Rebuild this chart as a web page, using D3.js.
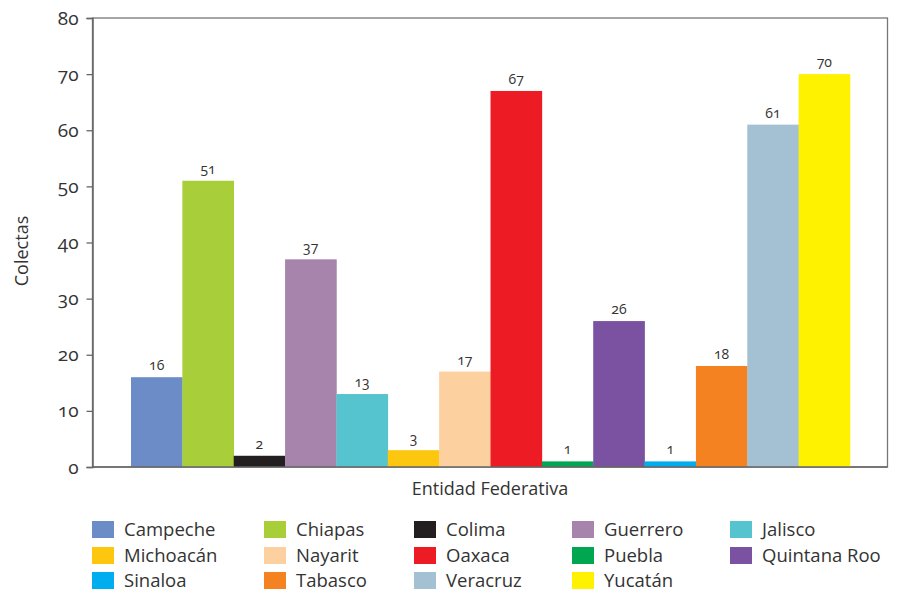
<!DOCTYPE html>
<html><head><meta charset="utf-8">
<script src="https://cdn.jsdelivr.net/npm/d3@7"></script>
<style>
body{margin:0;background:#fff;}
text{font-family:"Open Sans",sans-serif;font-weight:400;font-variant-numeric:oldstyle-nums;fill:#333;}
</style></head><body>
<svg id="c" width="897" height="593"></svg>
<script>
const categories = ["Campeche","Chiapas","Colima","Guerrero","Jalisco","Michoacán","Nayarit","Oaxaca","Puebla","Quintana Roo","Sinaloa","Tabasco","Veracruz","Yucatán"];
const values = [16,51,2,37,13,3,17,67,1,26,1,18,61,70];
const colors = ["#6b8cc7","#a8cf3a","#231f20","#a784ab","#56c4cf","#fdc70f","#fdd09f","#ed1c24","#00a650","#7b51a1","#00aeef","#f58220","#a3c1d3","#fff200"];
const yTicks = [0,10,20,30,40,50,60,70,80];

const svg = d3.select("#c");
const L=92.5, R=887.5, T=18, B=467;
const x = d3.scaleBand().domain(categories).range([131,850]).padding(0);
const y = d3.scaleLinear().domain([0,80]).range([B,T]);

svg.append("rect").attr("x",L).attr("y",T).attr("width",R-L).attr("height",B-T)
  .attr("fill","none").attr("stroke","#777").attr("stroke-width",1.3);

svg.selectAll("rect.bar").data(values).join("rect").attr("class","bar")
  .attr("x",(d,i)=>x(categories[i])).attr("width",x.bandwidth()+0.3)
  .attr("y",d=>y(d)).attr("height",d=>B-y(d))
  .attr("fill",(d,i)=>colors[i]);

const yAxis = svg.append("g").attr("transform",`translate(${L},0)`)
  .call(d3.axisLeft(y).tickValues(yTicks).tickSize(6).tickPadding(8));
yAxis.select(".domain").attr("stroke","#666").attr("stroke-width",1.5);
yAxis.selectAll(".tick line").attr("stroke","#666").attr("stroke-width",1.3);
yAxis.selectAll(".tick text").attr("font-size",19).attr("fill","#333")
  .style("font-family","'Open Sans',sans-serif").style("font-weight",400);

svg.append("line").attr("x1",L).attr("x2",R).attr("y1",B).attr("y2",B).attr("stroke","#666").attr("stroke-width",1.5);

svg.selectAll("text.val").data(values).join("text").attr("class","val")
  .attr("x",(d,i)=>x(categories[i])+x.bandwidth()/2)
  .attr("y",d=>y(d)-7).attr("text-anchor","middle").attr("font-size",14)
  .text(d=>d);

svg.append("text").attr("x",490).attr("y",495).attr("text-anchor","middle").attr("font-size",18).text("Entidad Federativa");
svg.append("text").attr("transform","translate(28,251) rotate(-90)").attr("text-anchor","middle").attr("font-size",18).text("Colectas");

const colX=[92,264,414,572,730], rowY=[529,555,580];
const lg = svg.selectAll("g.lg").data(categories).join("g").attr("class","lg")
  .attr("transform",(d,i)=>`translate(${colX[i%5]},${rowY[Math.floor(i/5)]})`);
lg.append("rect").attr("x",0).attr("y",-8).attr("width",22).attr("height",17).attr("fill",(d,i)=>colors[i]);
lg.append("text").attr("x",32).attr("y",7).attr("font-size",18.5).text(d=>d);
</script></body></html>
